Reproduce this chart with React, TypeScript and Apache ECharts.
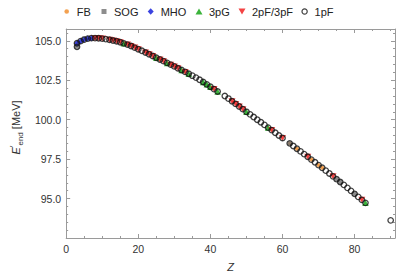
import React, { useEffect, useRef } from "react";
import * as echarts from "echarts";

// 1pF: every nucleus (Z, E'_end in MeV)
const zAll = [3, 3, 4, 5, 6, 7, 8, 9, 10, 11, 12, 13, 14, 15, 16, 17, 18, 19, 20, 21, 22, 23, 24, 25, 26, 27, 28, 29, 30, 31, 32, 33, 34, 35, 36, 37, 38, 39, 40, 41, 42, 44, 45, 46, 47, 48, 49, 50, 51, 52, 53, 54, 55, 56, 57, 58, 59, 60, 62, 63, 64, 65, 66, 67, 68, 69, 70, 71, 72, 73, 74, 75, 76, 77, 78, 79, 80, 81, 82, 83, 90];
const eAll = [104.62, 104.85, 104.98, 105.08, 105.14, 105.17, 105.17, 105.16, 105.14, 105.11, 105.07, 105.02, 104.97, 104.91, 104.84, 104.76, 104.67, 104.57, 104.47, 104.37, 104.26, 104.15, 104.04, 103.93, 103.82, 103.71, 103.6, 103.49, 103.38, 103.26, 103.15, 103.03, 102.91, 102.79, 102.67, 102.53, 102.39, 102.24, 102.09, 101.94, 101.79, 101.5, 101.34, 101.17, 101.0, 100.84, 100.67, 100.5, 100.34, 100.17, 100.0, 99.84, 99.67, 99.5, 99.34, 99.17, 99.0, 98.84, 98.5, 98.33, 98.16, 97.99, 97.82, 97.65, 97.47, 97.3, 97.12, 96.95, 96.77, 96.59, 96.41, 96.23, 96.05, 95.87, 95.68, 95.49, 95.3, 95.11, 94.92, 94.73, 93.62];

const fbZ = [62, 64, 68, 70, 71];
const fbE = [98.5, 98.16, 97.47, 97.12, 96.95];

const sogZ = [3, 62, 75, 76, 80];
const sogE = [104.62, 98.5, 96.23, 96.05, 95.3];

const mhoZ = [3, 4, 5, 6, 7];
const mhoE = [104.85, 104.98, 105.08, 105.14, 105.17];

const pgZ = [16, 25, 28, 32, 34, 38, 39, 40, 42, 50, 56, 83];
const pgE = [104.84, 103.93, 103.6, 103.15, 102.91, 102.39, 102.24, 102.09, 101.79, 100.5, 99.5, 94.73];

const pfZ = [8, 9, 10, 12, 13, 14, 15, 17, 18, 19, 20, 22, 23, 24, 26, 27, 29, 30, 31, 33, 41, 46, 47, 48, 49, 57, 60, 67, 74, 82];
const pfE = [105.17, 105.16, 105.14, 105.07, 105.02, 104.97, 104.91, 104.76, 104.67, 104.57, 104.47, 104.26, 104.15, 104.04, 103.82, 103.71, 103.49, 103.38, 103.26, 103.03, 101.94, 101.17, 101.0, 100.84, 100.67, 99.34, 98.84, 97.65, 96.41, 94.92];

const seriesNames = ["FB", "SOG", "MHO", "3pG", "2pF/3pF", "1pF"];
const xTicks = [0, 20, 40, 60, 80];
const yTicks = [95.0, 97.5, 100.0, 102.5, 105.0];

const FONT = "'Liberation Sans', Arial, sans-serif";
const FRAME = "#9a9a9a";

const pairs = (zs: number[], es: number[]) => zs.map((z, i) => [z, es[i]]);

// legend icons: shape inside a fixed 10x8 box (the leading moves fix the box)
const BOX = "M0,0M10,8";
const legendIcons = [
  `path://${BOX}M2.7,4A2.3,2.3 0 1,0 7.3,4A2.3,2.3 0 1,0 2.7,4Z`,
  `path://${BOX}M2.5,1.5L7.5,1.5L7.5,6.5L2.5,6.5Z`,
  `path://${BOX}M5,0.8L8,4L5,7.2L2,4Z`,
  `path://${BOX}M5,1L8.5,7L1.5,7Z`,
  `path://${BOX}M1.5,1L8.5,1L5,7Z`,
  `path://${BOX}M2.4,4A2.6,2.6 0 1,0 7.6,4A2.6,2.6 0 1,0 2.4,4Z`,
];
const legendLefts = [61.7, 99, 145.7, 194, 237, 299];

export default function App() {
  const ref = useRef<HTMLDivElement>(null);
  useEffect(() => {
    if (!ref.current) return;
    const chart = echarts.init(ref.current, undefined, { renderer: "svg" });
    const xMin = 0, xMax = 91.2, yMin = 92.5, yMax = 105.75;
    const xFmt = (v: number) => (xTicks.includes(v) ? String(v) : "");
    const yFmt = (v: number) => {
      const hit = yTicks.find((t) => Math.abs(t - v) < 1e-6);
      return hit !== undefined ? hit.toFixed(1) : "";
    };
    const lineStyle = { color: FRAME, width: 1 };
    const mkX = (position: string, interval: number, len: number, main: boolean) => ({
      type: "value",
      position,
      min: xMin,
      max: xMax,
      interval,
      axisLine: { show: main, lineStyle, onZero: false },
      axisTick: { show: true, inside: true, length: len, lineStyle },
      axisLabel: main && position === "bottom"
        ? { show: true, formatter: xFmt, margin: 5, fontSize: 10.5, color: "#333", fontFamily: FONT, showMaxLabel: false }
        : { show: false },
      splitLine: { show: false },
      ...(main && position === "bottom"
        ? {
            name: "Z",
            nameLocation: "middle",
            nameGap: 23,
            nameTextStyle: { fontStyle: "italic", fontSize: 11, color: "#333", fontFamily: FONT },
          }
        : {}),
    });
    const mkY = (position: string, interval: number, len: number, main: boolean) => ({
      type: "value",
      position,
      min: yMin,
      max: yMax,
      interval,
      axisLine: { show: main, lineStyle, onZero: false },
      axisTick: { show: true, inside: true, length: len, lineStyle },
      axisLabel: main && position === "left"
        ? { show: true, formatter: yFmt, margin: 5, fontSize: 10.5, color: "#333", fontFamily: FONT, showMaxLabel: false, showMinLabel: false }
        : { show: false },
      splitLine: { show: false },
      ...(main && position === "left"
        ? {
            name: "{i|E}{p|′}{s|end} [MeV]",
            nameLocation: "middle",
            nameGap: 31,
            nameTextStyle: {
              fontSize: 11,
              color: "#333",
              fontFamily: FONT,
              lineHeight: 16,
              padding: [0, 0, 0, 12],
              rich: {
                i: { fontStyle: "italic", fontSize: 11, color: "#333", fontFamily: FONT, lineHeight: 16 },
                p: { fontSize: 9, color: "#333", fontFamily: FONT, verticalAlign: "top", lineHeight: 16 },
                s: { fontSize: 8, color: "#333", fontFamily: FONT, verticalAlign: "bottom", lineHeight: 16 },
              },
            },
          }
        : {}),
    });

    const base = { type: "scatter", xAxisIndex: 0, yAxisIndex: 0, emphasis: { disabled: true }, silent: true };
    const downTri = "path://M0,0L10,0L5,8.66Z";

    const legends = seriesNames.map((name, i) => ({
      show: true,
      top: 6,
      left: legendLefts[i],
      padding: 0,
      itemWidth: 10,
      itemHeight: 8,
      itemGap: 0,
      selectedMode: false,
      symbolKeepAspect: true,
      textStyle: { fontSize: 11, color: "#222", fontFamily: FONT },
      data: [
        name === "1pF"
          ? { name, icon: legendIcons[i], itemStyle: { color: "rgba(0,0,0,0)", borderColor: "#111", borderWidth: 1.2 } }
          : { name, icon: legendIcons[i], itemStyle: { borderWidth: 0 } },
      ],
    }));

    chart.setOption({
      animation: false,
      grid: { left: 54, right: 4, top: 29, bottom: 38, containLabel: false },
      legend: legends,
      xAxis: [mkX("bottom", 20, 4, true), mkX("bottom", 5, 2, false), mkX("top", 20, 4, true), mkX("top", 5, 2, false)],
      yAxis: [mkY("left", 2.5, 4, true), mkY("left", 0.5, 2, false), mkY("right", 2.5, 4, true), mkY("right", 0.5, 2, false)],
      series: [
        { ...base, name: seriesNames[0], symbol: "circle", symbolSize: 4, itemStyle: { color: "#f08a24" }, data: pairs(fbZ, fbE), z: 2 },
        { ...base, name: seriesNames[1], symbol: "rect", symbolSize: 4.5, itemStyle: { color: "#707070" }, data: pairs(sogZ, sogE), z: 2 },
        { ...base, name: seriesNames[2], symbol: "diamond", symbolSize: 6, itemStyle: { color: "#0a14d8" }, data: pairs(mhoZ, mhoE), z: 2 },
        { ...base, name: seriesNames[3], symbol: "triangle", symbolSize: 6.5, itemStyle: { color: "#0aa00a" }, data: pairs(pgZ, pgE), z: 2 },
        { ...base, name: seriesNames[4], symbol: downTri, symbolSize: [7, 6], itemStyle: { color: "#f01414" }, data: pairs(pfZ, pfE), z: 2 },
        {
          ...base,
          name: seriesNames[5],
          symbol: "circle",
          symbolSize: 5.5,
          itemStyle: { color: "rgba(0,0,0,0)", borderColor: "#111", borderWidth: 1.3 },
          data: pairs(zAll, eAll),
          z: 3,
        },
      ],
    });
    return () => chart.dispose();
  }, []);
  return <div ref={ref} style={{ width: 399, height: 277, position: "absolute", left: 0, top: 0 }} />;
}
